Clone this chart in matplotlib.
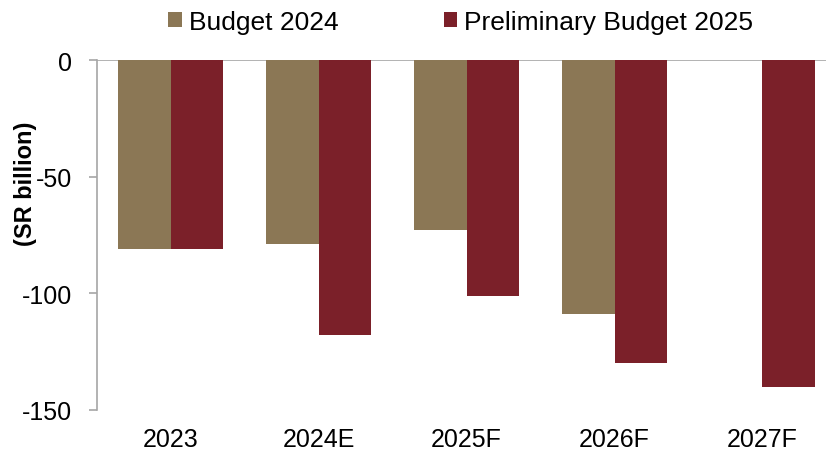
import numpy as np
import matplotlib.pyplot as plt

plt.rcParams['font.family'] = ['Liberation Sans', 'DejaVu Sans']
plt.rcParams['axes.unicode_minus'] = False

years = ['2023', '2024E', '2025F', '2026F', '2027F']
budget_2024 = [-81, -79, -73, -109, np.nan]
prelim_2025 = [-81, -118, -101, -130, -140]

c_budget = '#8B7755'
c_prelim = '#7B2029'
grey = '#A6A6A6'

fig = plt.figure(figsize=(8.26, 4.52), dpi=100)
ax = fig.add_axes([0.1174, 0.091, 0.8826, 0.774])

x = np.arange(len(years))
w = 0.355
ax.bar(x - w / 2, budget_2024, w, color=c_budget, label='Budget 2024')
ax.bar(x + w / 2, prelim_2025, w, color=c_prelim, label='Preliminary Budget 2025')

ax.set_ylim(-150, 0)
ax.set_xlim(-0.5, 4.43)
ax.set_yticks([0, -50, -100, -150])
ax.set_xticks(x)
ax.set_xticklabels(years)
ax.axhline(0, color=grey, lw=1.2, zorder=0)

for s in ['top', 'right', 'bottom']:
    ax.spines[s].set_visible(False)
ax.spines['left'].set_color(grey)
ax.spines['left'].set_linewidth(1.2)
ax.tick_params(axis='y', colors=grey, labelcolor='black', labelsize=18, length=6, width=1.2, pad=12)
ax.tick_params(axis='x', length=0, labelsize=18, pad=12)
ax.set_ylabel('(SR billion)', fontsize=17, fontweight='bold')
ax.yaxis.set_label_coords(-0.082, 0.649)

fig.legend(loc='center', bbox_to_anchor=(0.558, 0.949), ncol=2, frameon=False,
           fontsize=19, handlelength=0.5, handleheight=0.5, handletextpad=0.27,
           columnspacing=4.0, borderaxespad=0, borderpad=0)

plt.savefig('out.png', dpi=100)
